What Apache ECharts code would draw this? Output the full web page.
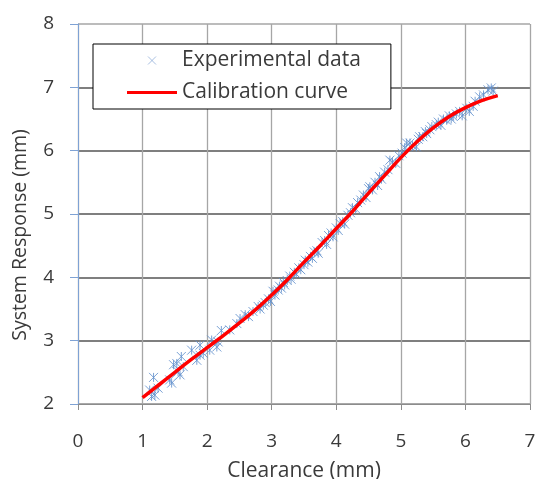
<!DOCTYPE html>
<html>
<head>
<meta charset="utf-8">
<script src="https://cdn.jsdelivr.net/npm/echarts@6/dist/echarts.min.js"></script>
<style>html,body{margin:0;padding:0;background:#fff}#c{width:536px;height:479px}</style>
</head>
<body>
<div id="c"></div>
<script>
const xTicks = [0, 1, 2, 3, 4, 5, 6, 7];
const yTicks = [2, 3, 4, 5, 6, 7, 8];
const seriesNames = ['Experimental data', 'Calibration curve'];
const xName = 'Clearance (mm)';
const yName = 'System Response (mm)';

const curveX = [1.00,1.25,1.50,1.75,2.00,2.25,2.50,2.75,3.00,3.25,3.50,3.75,4.00,4.25,4.50,4.75,5.00,5.25,5.50,5.75,6.00,6.25,6.50];
const curveY = [2.10,2.30,2.50,2.70,2.89,3.08,3.28,3.49,3.72,3.97,4.24,4.50,4.77,5.04,5.33,5.61,5.89,6.14,6.36,6.54,6.68,6.79,6.87];

const expX = [1.17,1.14,1.19,1.24,1.11,1.42,1.45,1.48,1.53,1.55,1.60,1.58,1.63,1.76,1.89,1.84,1.89,1.94,2.07,2.04,2.15,2.17,2.22,2.35,2.46,2.51,2.59,2.64,2.71,2.79,2.87,
  2.82,2.90,2.95,2.98,3.02,3.05,3.10,3.12,3.15,3.18,3.20,3.24,3.28,3.30,3.35,3.38,3.42,3.45,3.50,3.52,3.56,3.60,3.63,3.66,3.70,3.72,3.78,3.82,3.85,3.88,3.92,3.95,
  4.00,4.03,4.06,4.10,4.13,4.18,4.22,4.25,4.30,4.33,4.38,4.42,4.46,4.50,4.52,4.56,4.60,4.64,4.67,4.70,4.75,4.80,4.83,4.87,4.92,4.97,
  5.02,5.06,5.09,5.14,5.18,5.24,5.27,5.29,5.34,5.38,5.40,5.45,5.48,5.55,5.58,5.62,5.66,5.71,5.75,5.78,5.81,5.86,5.91,5.95,6.02,6.06,6.12,6.15,6.22,6.28,6.35,6.40,6.43];
const expY = [2.42,2.12,2.14,2.25,2.22,2.38,2.33,2.62,2.64,2.51,2.75,2.46,2.59,2.85,2.93,2.69,2.77,2.80,3.01,2.85,2.90,2.98,3.16,3.17,3.27,3.35,3.41,3.38,3.46,3.54,3.56,
  3.50,3.60,3.66,3.62,3.78,3.72,3.80,3.86,3.83,3.92,3.88,3.95,4.02,3.97,4.08,4.05,4.15,4.12,4.20,4.27,4.24,4.33,4.30,4.40,4.42,4.38,4.55,4.58,4.52,4.66,4.70,4.64,
  4.78,4.74,4.85,4.88,4.84,4.98,5.02,5.10,5.08,5.18,5.22,5.30,5.26,5.40,5.43,5.38,5.50,5.45,5.59,5.55,5.66,5.70,5.85,5.82,5.80,5.92,
  5.96,6.05,6.12,6.12,6.08,6.06,6.18,6.22,6.22,6.30,6.27,6.33,6.38,6.41,6.45,6.40,6.50,6.48,6.55,6.50,6.54,6.58,6.62,6.55,6.67,6.62,6.70,6.78,6.85,6.88,6.96,6.99,6.94];

const expData = expX.map((x, i) => [x, expY[i]]);
const curveData = curveX.map((x, i) => [x, curveY[i]]);

const FONT = 'Open Sans';
const TXT = '#3a3a3a';
const marker = 'path://M0,0L10,10M10,0L0,10M5,0L5,10';
const legendMarker = 'path://M0,0L10,10M10,0L0,10';
const legendLine = 'path://M0,0L50,0L50,3L0,3Z';

const chart = echarts.init(document.getElementById('c'), null, {renderer: 'canvas'});
chart.setOption({
  animation: false,
  backgroundColor: '#fff',
  textStyle: {fontFamily: FONT},
  grid: {left: 78, right: 6, top: 24, bottom: 75, containLabel: false, outerBoundsMode: 'none'},
  graphic: [{
    type: 'text', x: 20, y: 235, rotation: Math.PI / 2, z: 10,
    style: {text: yName, fontFamily: FONT, fontSize: 19.5, fill: TXT, align: 'center', verticalAlign: 'middle'}
  }],
  legend: {
    orient: 'vertical',
    left: 93, top: 44,
    padding: [6, 30, 6, 34],
    itemGap: 11,
    itemWidth: 50, itemHeight: 8,
    itemTextGap: 5,
    symbolKeepAspect: true,
    backgroundColor: '#fff',
    borderColor: '#000', borderWidth: 1, borderRadius: 0,
    textStyle: {fontFamily: FONT, fontSize: 21, color: TXT},
    data: [
      {name: seriesNames[0], icon: legendMarker, itemStyle: {color: 'none', borderColor: '#7fa2d4', borderWidth: 0.8}},
      {name: seriesNames[1], icon: legendLine, itemStyle: {color: '#ff0000', borderWidth: 0}}
    ]
  },
  xAxis: {
    type: 'value', min: xTicks[0], max: xTicks[xTicks.length - 1], interval: 1,
    name: xName, nameLocation: 'middle', nameGap: 57,
    nameTextStyle: {fontFamily: FONT, fontSize: 21, color: TXT},
    axisLine: {onZero: false, lineStyle: {color: '#8c8c8c', width: 1}},
    axisTick: {show: true, inside: false, length: 6, lineStyle: {color: '#8c8c8c'}},
    axisLabel: {margin: 28, fontFamily: FONT, fontSize: 19, color: TXT},
    splitLine: {show: true, lineStyle: {color: '#a6a6a6', width: 1.3}}
  },
  yAxis: {
    type: 'value', min: yTicks[0], max: yTicks[yTicks.length - 1], interval: 1,
    axisLine: {show: true, onZero: false, lineStyle: {color: '#7fa2d4', width: 1}},
    axisTick: {show: true, inside: false, length: 8, lineStyle: {color: '#7fa2d4'}},
    axisLabel: {margin: 24, fontFamily: FONT, fontSize: 19, color: TXT},
    splitLine: {show: true, lineStyle: {color: ['#8c8c8c', '#555', '#555', '#555', '#555', '#555', '#a6a6a6'], width: 1.5}}
  },
  series: [
    {
      name: seriesNames[0], type: 'scatter', data: expData,
      symbol: marker, symbolSize: 9,
      itemStyle: {color: 'none', borderColor: '#6390cc', borderWidth: 1, opacity: 0.85},
      z: 2
    },
    {
      name: seriesNames[1], type: 'line', data: curveData, smooth: 0.4,
      symbol: 'none', showSymbol: false,
      lineStyle: {color: '#ff0000', width: 3.5},
      itemStyle: {color: '#ff0000'},
      z: 3
    }
  ]
});
</script>
</body>
</html>
